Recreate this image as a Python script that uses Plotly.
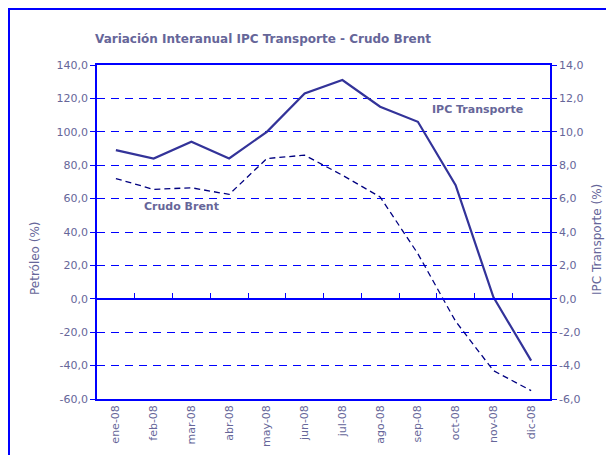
import plotly.graph_objects as go

months = ["ene-08", "feb-08", "mar-08", "abr-08", "may-08", "jun-08",
          "jul-08", "ago-08", "sep-08", "oct-08", "nov-08", "dic-08"]
ipc_transporte = [8.9, 8.4, 9.4, 8.4, 10.0, 12.3, 13.1, 11.5, 10.6, 6.8, 0.1, -3.7]
crudo_brent = [72.0, 65.5, 66.5, 62.5, 84.0, 86.0, 74.0, 61.0, 27.0, -13.5, -43.0, -55.0]

left_ticks = [-60, -40, -20, 0, 20, 40, 60, 80, 100, 120, 140]
left_labels = ["-60,0", "-40,0", "-20,0", "0,0", "20,0", "40,0", "60,0",
               "80,0", "100,0", "120,0", "140,0"]
right_ticks = [-6, -4, -2, 0, 2, 4, 6, 8, 10, 12, 14]
right_labels = ["-6,0", "-4,0", "-2,0", "0,0", "2,0", "4,0", "6,0",
                "8,0", "10,0", "12,0", "14,0"]

TXT = "#666699"
BLUE = "#0000ff"
FONT = "DejaVu Sans"

OFF = 8  # page body margin
W, H = 614 - 2 * OFF, 463 - 2 * OFF
L, T = 97 - OFF, 65 - OFF
R = W - (550 - OFF)
B = H - (399 - OFF)
pw, ph = W - L - R, H - T - B

def px(x):
    return (x - OFF - L) / pw

def py(y):
    return (H - B - (y - OFF)) / ph

fig = go.Figure()
fig.add_trace(go.Scatter(x=months, y=crudo_brent, mode="lines", name="Crudo Brent",
                         line=dict(color="#000080", width=1.3, dash="6px,4px"),
                         yaxis="y", xaxis="x", showlegend=False))
fig.add_trace(go.Scatter(x=months, y=ipc_transporte, mode="lines", name="IPC Transporte",
                         line=dict(color="#333399", width=2.2),
                         yaxis="y2", xaxis="x", showlegend=False))
fig.add_trace(go.Scatter(x=months, y=[None] * len(months), xaxis="x2", yaxis="y",
                         showlegend=False, hoverinfo="skip"))
fig.add_trace(go.Scatter(x=[months[0]], y=[None], yaxis="y3", xaxis="x",
                         showlegend=False, hoverinfo="skip"))
fig.add_trace(go.Scatter(x=[months[0]], y=[None], yaxis="y4", xaxis="x",
                         showlegend=False, hoverinfo="skip"))

fig.update_layout(
    width=W, height=H,
    margin=dict(l=L, r=R, t=T, b=B, autoexpand=False),
    paper_bgcolor="white", plot_bgcolor="white",
    font=dict(family=FONT, size=11, color=TXT),
    title=dict(text="<b>Variación Interanual IPC Transporte - Crudo Brent</b>",
               x=px(263), xanchor="center", xref="paper",
               y=1 - (39 - OFF) / H, yanchor="middle",
               font=dict(family=FONT, size=12, color=TXT)),
    xaxis=dict(type="category", categoryorder="array", categoryarray=months,
               range=[-0.5, 11.5], showgrid=False, zeroline=False,
               showline=True, linecolor=BLUE, linewidth=1.5, mirror=True,
               ticks="", tickangle=-90, tickfont=dict(size=11, color=TXT)),
    xaxis2=dict(type="category", categoryorder="array", categoryarray=months,
                range=[-0.5, 11.5], overlaying="x", anchor="free", position=0.3,
                side="bottom", showgrid=False, zeroline=False, showline=True,
                linecolor=BLUE, linewidth=1.5, ticks="inside", ticklen=5,
                tickcolor=BLUE, tickson="boundaries", showticklabels=False),
    yaxis=dict(range=[-60, 140], tickvals=left_ticks, ticktext=left_labels,
               showgrid=True, gridcolor=BLUE, griddash="8px,6px", gridwidth=1,
               zeroline=False, showline=True, linecolor=BLUE, linewidth=1.5,
               ticks="outside", ticklen=5, tickcolor=BLUE,
               tickfont=dict(size=11, color=TXT)),
    yaxis2=dict(range=[-6, 14], tickvals=right_ticks, ticktext=right_labels,
                overlaying="y", side="right", anchor="x", showgrid=False,
                zeroline=False, showline=True, linecolor=BLUE, linewidth=1.5,
                ticks="outside", ticklen=5, tickcolor=BLUE,
                tickfont=dict(size=11, color=TXT)),
    yaxis3=dict(range=[-60, 140], tickvals=left_ticks, overlaying="y", side="left",
                anchor="x", showgrid=False, zeroline=False, showline=False,
                ticks="inside", ticklen=8, tickcolor=BLUE, showticklabels=False),
    yaxis4=dict(range=[-6, 14], tickvals=right_ticks, overlaying="y", side="right",
                anchor="x", showgrid=False, zeroline=False, showline=False,
                ticks="inside", ticklen=8, tickcolor=BLUE, showticklabels=False),
    annotations=[
        dict(text="<b>IPC Transporte</b>", xref="paper", yref="paper",
             x=px(477), y=py(109), xanchor="center", yanchor="middle", showarrow=False,
             font=dict(family=FONT, size=11, color=TXT)),
        dict(text="<b>Crudo Brent</b>", xref="paper", yref="paper",
             x=px(181), y=py(206), xanchor="center", yanchor="middle", showarrow=False,
             font=dict(family=FONT, size=11, color=TXT)),
        dict(text="Petróleo (%)", xref="paper", yref="paper", textangle=-90,
             x=px(35), y=py(258), xanchor="center", yanchor="middle", showarrow=False,
             font=dict(family=FONT, size=12, color=TXT)),
        dict(text="IPC Transporte (%)", xref="paper", yref="paper", textangle=-90,
             x=px(597), y=py(240), xanchor="center", yanchor="middle", showarrow=False,
             font=dict(family=FONT, size=12, color=TXT)),
    ],
    shapes=[
        dict(type="rect", xref="paper", yref="paper",
             x0=px(OFF + 1), x1=px(640), y0=py(490), y1=py(9),
             line=dict(color=BLUE, width=2), fillcolor="rgba(0,0,0,0)", layer="below"),
    ],
)

fig.write_html("out.html")
